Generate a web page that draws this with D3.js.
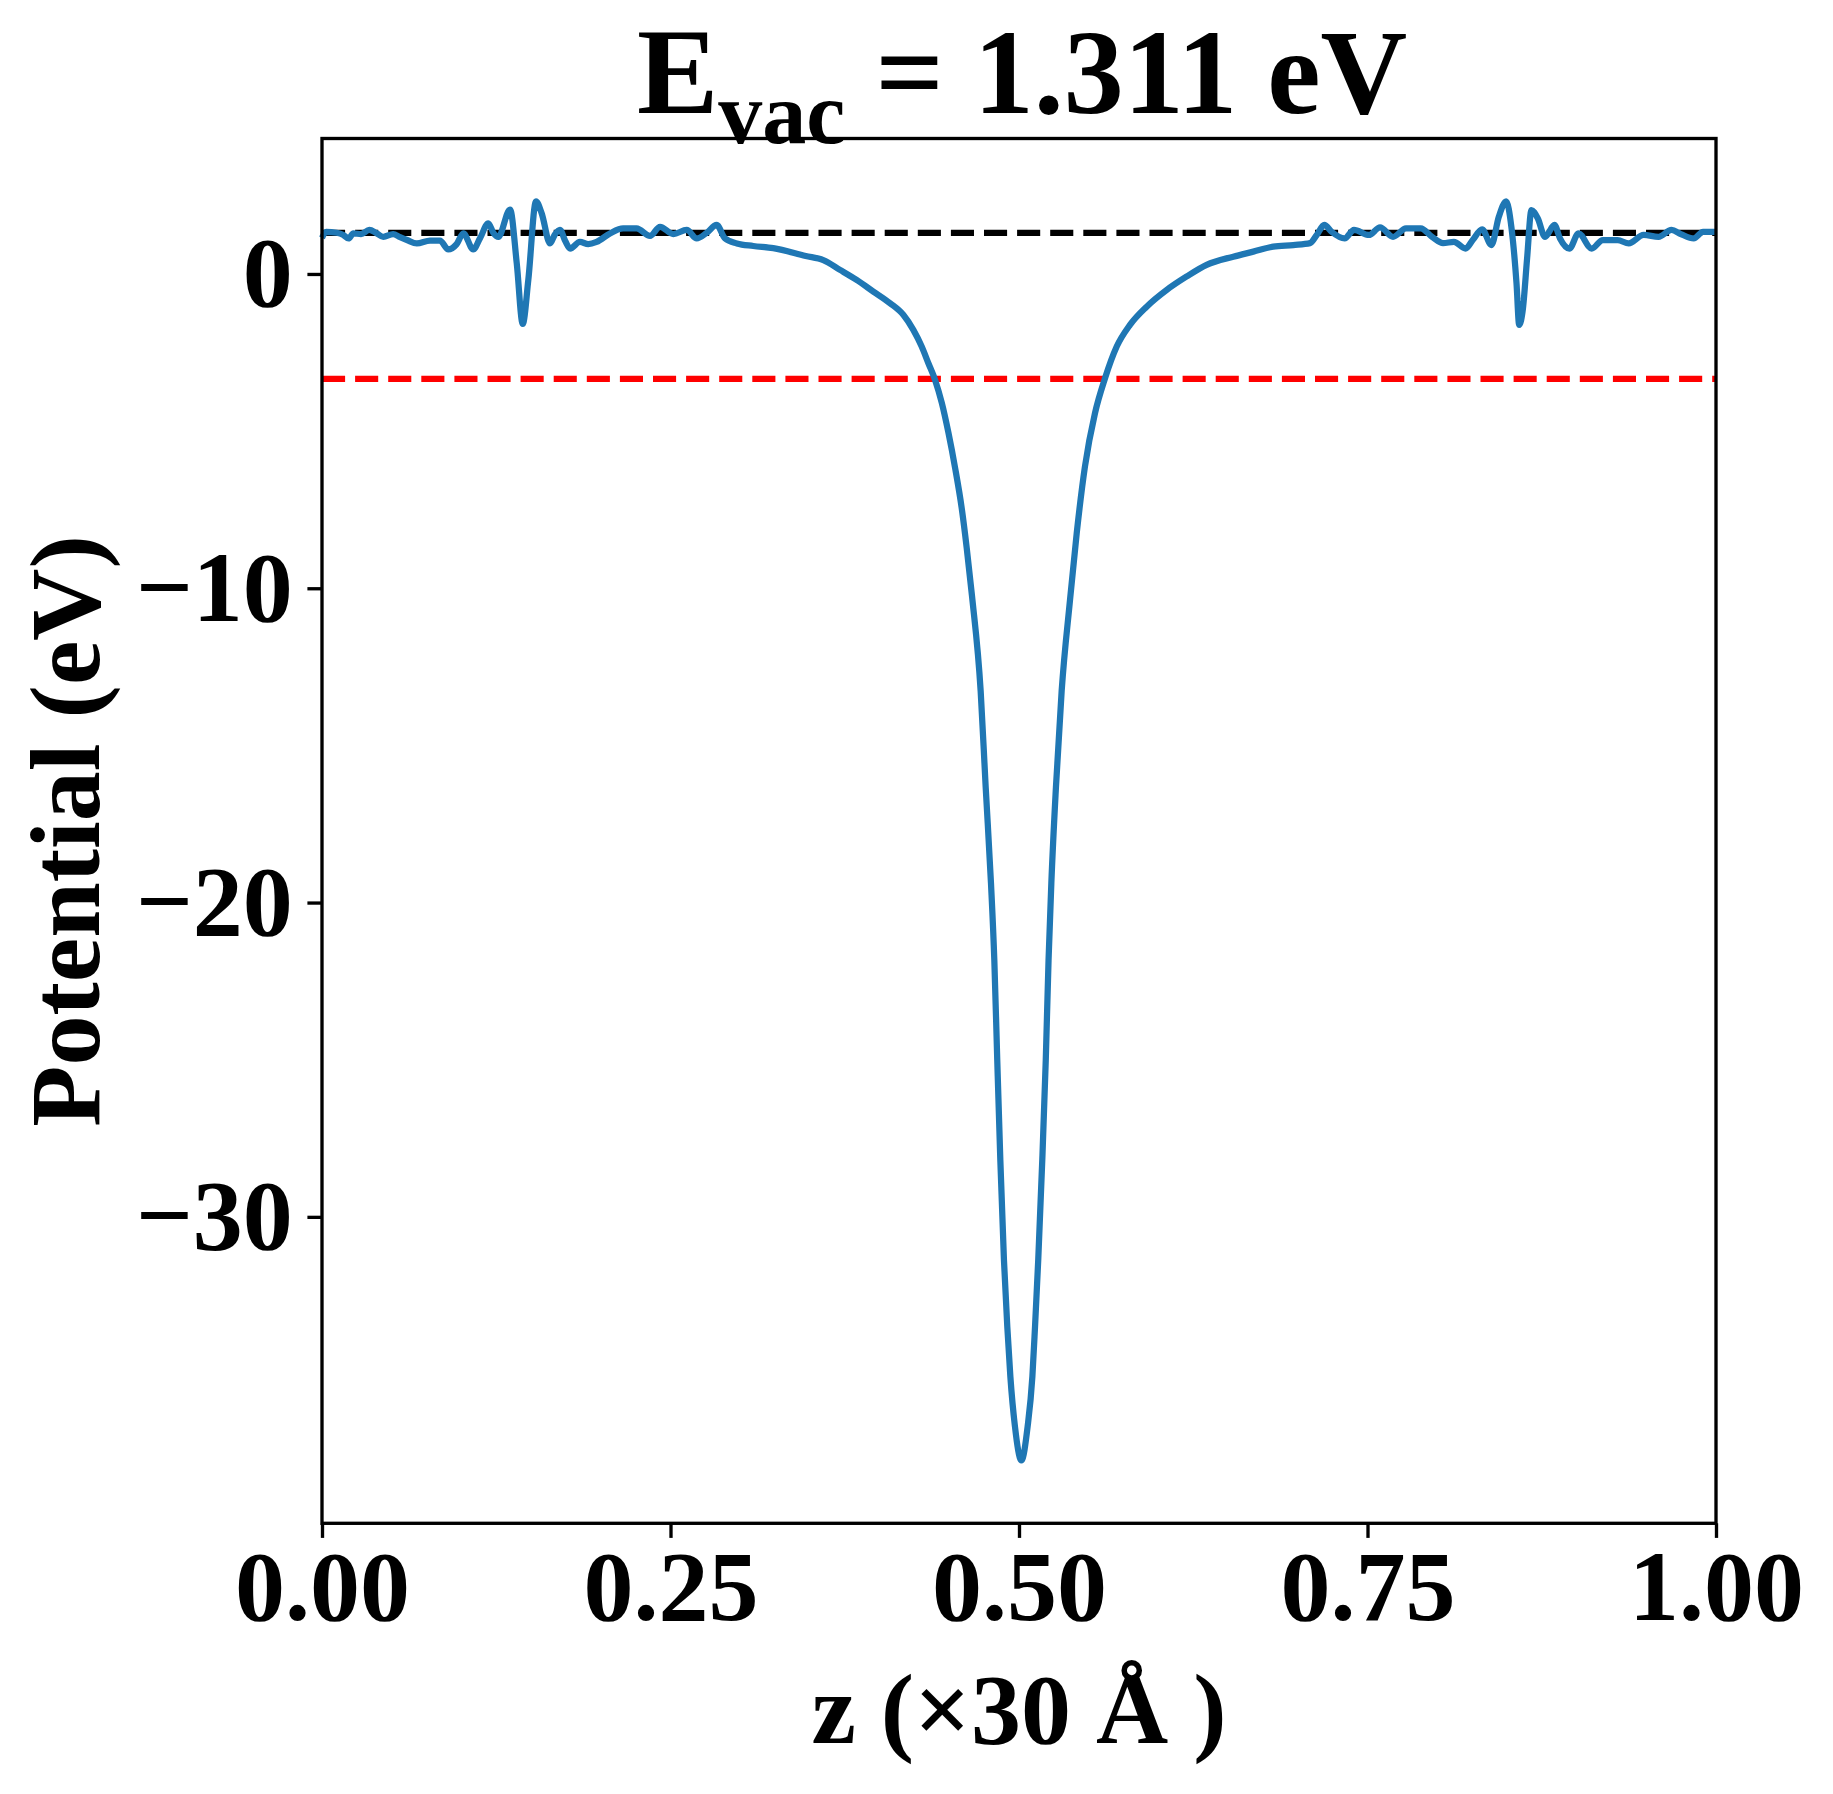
<!DOCTYPE html>
<html>
<head>
<meta charset="utf-8">
<script src="https://cdn.jsdelivr.net/npm/d3@7"></script>
<style>
  body { margin: 0; background: #fff; }
  text { font-family: "Liberation Serif", "Times New Roman", serif; font-weight: bold; }
</style>
</head>
<body>
<script>
// z position (fraction of 30 A cell)
let zFrac = [
  0.000, 0.003, 0.0105, 0.015, 0.019, 0.0225, 0.028, 0.034, 0.039, 0.044,
  0.051, 0.056, 0.061, 0.068, 0.0775, 0.0846, 0.0906, 0.0966, 0.1014, 0.1085,
  0.1133, 0.1193, 0.1229, 0.1265, 0.1349, 0.1397, 0.1440, 0.1480, 0.1535, 0.1576,
  0.1636, 0.1670, 0.1707, 0.1745, 0.178, 0.185, 0.191, 0.197, 0.2066, 0.216,
  0.2257, 0.2353, 0.2425, 0.252, 0.2616, 0.2688, 0.276, 0.2831, 0.2891, 0.2976,
  0.3094, 0.3237, 0.347, 0.3596, 0.3716, 0.3835, 0.3955, 0.4075, 0.417, 0.4242,
  0.4302, 0.435, 0.4398, 0.4446, 0.4494, 0.4542, 0.4589, 0.4625, 0.4663, 0.4725,
  0.4761, 0.4799, 0.4823, 0.4844, 0.4866, 0.4892, 0.4916, 0.4938, 0.4971, 0.5017,
  0.5062, 0.5096, 0.5115, 0.5138, 0.5167, 0.5192, 0.5212, 0.5232, 0.5265, 0.5306, 0.5366,
  0.5414, 0.5473, 0.5545, 0.5617, 0.5701, 0.5796, 0.5916, 0.6059, 0.6203, 0.6346,
  0.6537, 0.6681, 0.6824, 0.6968, 0.7088, 0.7136, 0.719, 0.7243, 0.7336, 0.7403,
  0.751, 0.759, 0.7683, 0.7776, 0.7882, 0.7963, 0.8042, 0.812, 0.8203, 0.8255,
  0.8322, 0.8389, 0.8442, 0.8495, 0.8532, 0.8569, 0.8588, 0.8615, 0.8645, 0.8676,
  0.8721, 0.8774, 0.8841, 0.8881, 0.8948, 0.9014, 0.9108, 0.9188, 0.9294, 0.9374,
  0.9481, 0.9588, 0.9681, 0.9747, 0.984, 0.9907, 1.000
];

// planar averaged potential (eV)
let potential = [
  1.15, 1.34, 1.31, 1.25, 1.13, 1.29, 1.27, 1.40, 1.30, 1.18,
  1.27, 1.17, 1.08, 0.97, 1.06, 1.06, 0.78, 0.95, 1.29, 0.78,
  1.13, 1.61, 1.31, 1.18, 2.05, 0.34, -1.59, -0.19, 2.31, 1.93,
  0.97, 1.25, 1.40, 1.05, 0.81, 1.02, 0.95, 1.02, 1.29, 1.45,
  1.45, 1.21, 1.50, 1.27, 1.40, 1.13, 1.31, 1.56, 1.13, 0.97,
  0.89, 0.82, 0.57, 0.44, 0.13, -0.19, -0.56, -0.93, -1.30, -1.78,
  -2.31, -2.84, -3.37, -4.10, -5.06, -6.18, -7.45, -8.72, -10.25, -13.27,
  -16.33, -19.38, -21.83, -25.01, -28.19, -31.37, -33.49, -35.08, -36.67, -37.75,
  -36.67, -35.08, -33.49, -31.37, -28.19, -25.01, -21.83, -19.38, -16.33, -13.27, -10.37,
  -8.25, -6.13, -4.43, -3.32, -2.31, -1.62, -1.04, -0.51, -0.08, 0.29,
  0.55, 0.71, 0.87, 0.92, 0.98, 1.24, 1.56, 1.34, 1.13, 1.40,
  1.24, 1.48, 1.18, 1.45, 1.45, 1.18, 0.98, 1.02, 0.81, 1.08,
  1.42, 0.92, 1.82, 2.31, 1.50, -0.30, -1.62, -1.10, 0.50, 2.03,
  1.77, 1.18, 1.56, 1.13, 0.81, 1.29, 0.81, 1.08, 1.08, 0.97,
  1.24, 1.18, 1.40, 1.27, 1.13, 1.34, 1.34
];

let xTickVals = [0, 0.25, 0.5, 0.75, 1];
let xTickLabels = ["0.00", "0.25", "0.50", "0.75", "1.00"];
let yTickVals = [0, -10, -20, -30];
let yTickLabels = ["0", "\u221210", "\u221220", "\u221230"];

let vacLevel = 1.311;
let fermiLevel = -3.34;

let width = 1833, height = 1794;
let plotLeft = 322, plotRight = 1716, plotTop = 138.5, plotBottom = 1523.3;

let x = d3.scaleLinear().domain([0, 1]).range([plotLeft, plotRight]);
let y = d3.scaleLinear().domain([-39.75, 4.31]).range([plotBottom, plotTop]);

const svg = d3.select("body")
  .append("svg")
  .attr("width", width)
  .attr("height", height);

// reference levels
svg.append("line")
  .attr("x1", x(0)).attr("x2", x(1))
  .attr("y1", y(vacLevel)).attr("y2", y(vacLevel))
  .style("stroke", "#000")
  .style("stroke-width", 6.25)
  .style("stroke-dasharray", "23.1 10");

svg.append("line")
  .attr("x1", x(0)).attr("x2", x(1))
  .attr("y1", y(fermiLevel)).attr("y2", y(fermiLevel))
  .style("stroke", "#ff0000")
  .style("stroke-width", 6.25)
  .style("stroke-dasharray", "23.1 10");

let line = d3.line()
  .x((d, i) => x(zFrac[i]))
  .y(d => y(d))
  .curve(d3.curveMonotoneX);

svg.append("path")
  .datum(potential)
  .attr("d", line)
  .style("fill", "none")
  .style("stroke", "#1f77b4")
  .style("stroke-width", 6.25)
  .style("stroke-linejoin", "round");

// axes
let xAxis = svg.append("g")
  .attr("transform", `translate(0,${plotBottom})`)
  .call(d3.axisBottom(x)
    .tickValues(xTickVals)
    .tickFormat((d, i) => xTickLabels[i])
    .tickSize(14.6)
    .tickSizeOuter(0)
    .tickPadding(14.6));

let yAxis = svg.append("g")
  .attr("transform", `translate(${plotLeft},0)`)
  .call(d3.axisLeft(y)
    .tickValues(yTickVals)
    .tickFormat((d, i) => yTickLabels[i])
    .tickSize(14.6)
    .tickSizeOuter(0)
    .tickPadding(14.6));

[xAxis, yAxis].forEach(g => {
  g.select(".domain").remove();
  g.selectAll(".tick line").style("stroke", "#000").style("stroke-width", 3.33);
  g.selectAll(".tick text")
    .style("font-size", "100px")
    .style("fill", "#000");
});
xAxis.selectAll(".tick text").attr("y", 29.2).attr("dy", "0.675em");

// frame
svg.append("rect")
  .attr("x", plotLeft).attr("y", plotTop)
  .attr("width", plotRight - plotLeft).attr("height", plotBottom - plotTop)
  .style("fill", "none")
  .style("stroke", "#000")
  .style("stroke-width", 3.33);

// labels
svg.append("text")
  .attr("x", (plotLeft + plotRight) / 2)
  .attr("y", 1743)
  .attr("text-anchor", "middle")
  .style("font-size", "100px")
  .text("z (\u00d730 \u00c5 )");

svg.append("text")
  .attr("transform", `translate(99,${(plotTop + plotBottom) / 2}) rotate(-90)`)
  .attr("text-anchor", "middle")
  .style("font-size", "100px")
  .text("Potential (eV)");

let title = svg.append("text")
  .attr("x", 1022)
  .attr("y", 113)
  .attr("text-anchor", "middle")
  .style("font-size", "120px");
title.append("tspan").style("font-size", "122px").text("E");
title.append("tspan").attr("dy", 30).style("font-size", "88px").text("vac");
title.append("tspan").attr("dy", -30).text(" = 1.311 eV");
</script>
</body>
</html>
